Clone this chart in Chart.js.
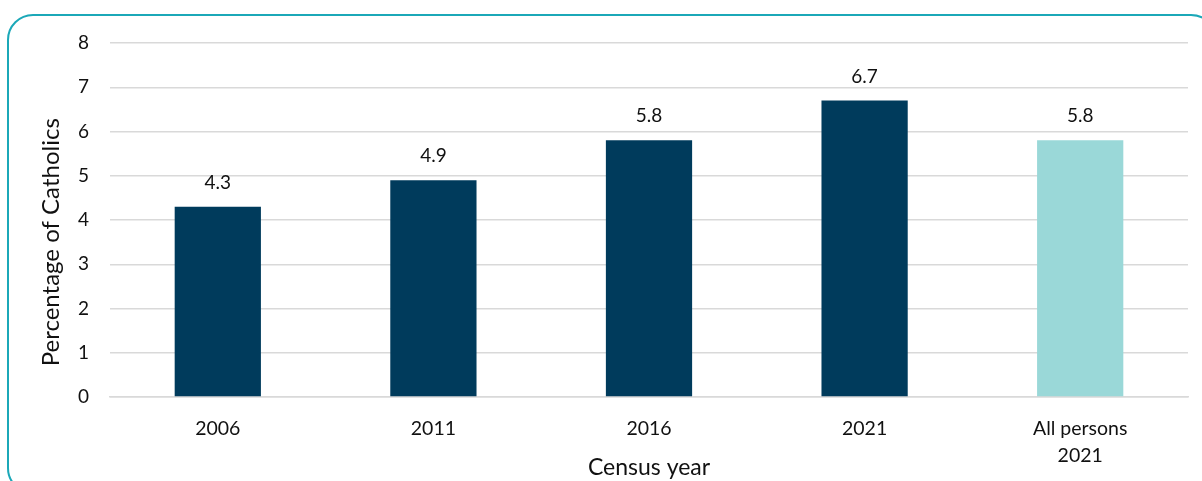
<!DOCTYPE html>
<html>
<head>
<meta charset="utf-8">
<script src="https://cdn.jsdelivr.net/npm/chart.js@4"></script>
<style>
  html, body { margin: 0; padding: 0; background: #fff; }
  body { width: 1202px; height: 481px; position: relative; overflow: hidden; }
  .frame {
    position: absolute; left: 7px; top: 14px; width: 1210px; height: 480px;
    border: 2px solid #1BA8B8; border-radius: 26px; box-sizing: border-box;
  }
  #wrap { position: absolute; left: 0; top: 0; width: 1202px; height: 481px; }
</style>
</head>
<body>
<div class="frame"></div>
<div id="wrap"><canvas id="catholicsChart"></canvas></div>
<script>
// Census data
const categories = ['2006', '2011', '2016', '2021', ['All persons', '2021']];
const percentages = [4.3, 4.9, 5.8, 6.7, 5.8];
const barColours = ['#003B5C', '#003B5C', '#003B5C', '#003B5C', '#9AD8D8'];
const yTicks = [0, 1, 2, 3, 4, 5, 6, 7, 8];

const FONT = 'Lato, "Open Sans", sans-serif';

// Draw the value above each bar
const valueLabels = {
    id: 'valueLabels',
    afterDatasetsDraw(chart) {
        const ctx = chart.ctx;
        const meta = chart.getDatasetMeta(0);
        ctx.save();
        ctx.font = '19px ' + FONT;
        ctx.fillStyle = '#111';
        ctx.textAlign = 'center';
        ctx.textBaseline = 'middle';
        meta.data.forEach((bar, i) => {
            ctx.fillText(percentages[i].toFixed(1), bar.x, bar.y - 24);
        });
        ctx.restore();
    }
};

document.addEventListener('DOMContentLoaded', function() {
    const ctx = document.getElementById('catholicsChart');
    new Chart(ctx, {
        type: 'bar',
        data: {
            labels: categories,
            datasets: [{
                data: percentages,
                backgroundColor: barColours,
                borderWidth: 0,
                categoryPercentage: 1,
                barPercentage: 0.4
            }]
        },
        options: {
            responsive: true,
            maintainAspectRatio: false,
            animation: false,
            layout: { padding: { left: 37, right: 14, top: 43, bottom: 0 } },
            plugins: {
                legend: { display: false },
                tooltip: { enabled: false }
            },
            scales: {
                y: {
                    min: 0,
                    max: 8,
                    afterFit: function(scale) { scale.width = 73; },
                    afterBuildTicks: function(scale) { scale.ticks = yTicks.map(v => ({ value: v })); },
                    border: { display: false },
                    grid: { color: '#D9D9D9', lineWidth: 1.5, drawTicks: false },
                    ticks: { color: '#111', padding: 21, font: { family: FONT, size: 19 } },
                    title: {
                        display: true,
                        align: 'start',
                        text: '     Percentage of Catholics',
                        color: '#111',
                        padding: { top: 0, bottom: 0 },
                        font: { family: FONT, size: 24 }
                    }
                },
                x: {
                    afterFit: function(scale) { scale.height = 84; },
                    border: { color: '#D9D9D9', width: 1.5 },
                    grid: { display: false, drawTicks: false },
                    ticks: { color: '#111', padding: 18, font: { family: FONT, size: 19.5, lineHeight: 1.4 } },
                    title: {
                        display: true,
                        text: 'Census year',
                        color: '#111',
                        padding: { top: 0, bottom: 0 },
                        font: { family: FONT, size: 23 }
                    }
                }
            }
        },
        plugins: [valueLabels]
    });
});
</script>
</body>
</html>
